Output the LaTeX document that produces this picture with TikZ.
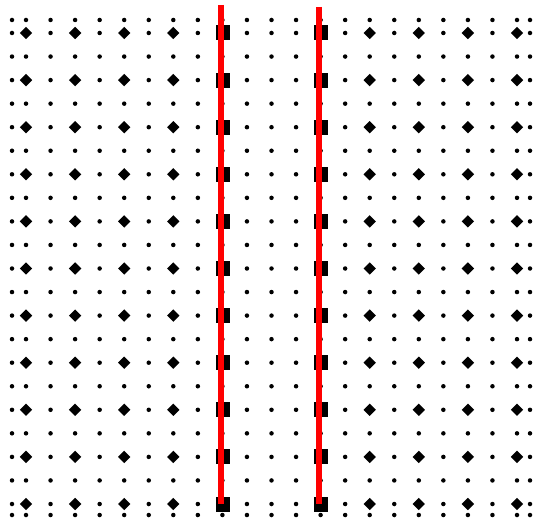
\documentclass[tikz,border=0pt]{standalone}
\usepackage{tikz}
\usetikzlibrary{shapes.geometric,calc}
\tikzset{
  speck/.style={circle, fill=black, inner sep=0pt, minimum size=4.5pt},
  gem/.style={diamond, fill=black, inner sep=0pt, minimum size=12.5pt},
  block/.style={rectangle, fill=black, inner sep=0pt, minimum width=14pt, minimum height=15pt},
  redline/.style={red, line width=6pt},
}

\begin{document}
\begin{tikzpicture}[x=1pt,y=-1pt]
  \fill[white] (0,0) rectangle (535,521);
  \useasboundingbox (0,0) rectangle (535,521);
  % small dots on every lattice point, edge rows and columns included
  \foreach \i in {0,...,22} {
    \foreach \j in {0,...,22} {
      \pgfmathsetmacro\px{\i==0 ? 12 : (\i==22 ? 530 : 26+24.55*(\i-1))}
      \pgfmathsetmacro\py{\j==0 ? 20 : (\j==22 ? 515 : 33+23.55*(\j-1))}
      \node[speck] (s-\i-\j) at (\px,\py) {};
    }
  }
  % diamonds outside the strip
  \foreach \i in {1,3,5,7,15,17,19,21} {
    \foreach \j in {1,3,...,21} {
      \node[gem] (g-\i-\j) at (s-\i-\j) {};
    }
  }
  % squares under the red lines
  \foreach \i in {9,13} {
    \foreach \j in {1,3,...,21} {
      \node[block,xshift=0.8pt] (b-\i-\j) at (s-\i-\j) {};
    }
  }
  \coordinate (topL) at (221,5);
  \coordinate (topR) at (319,7);
  \draw[redline] (topL) -- (topL |- b-9-21.center);
  \draw[redline] (topR) -- (topR |- b-13-21.center);
\end{tikzpicture}
\end{document}
